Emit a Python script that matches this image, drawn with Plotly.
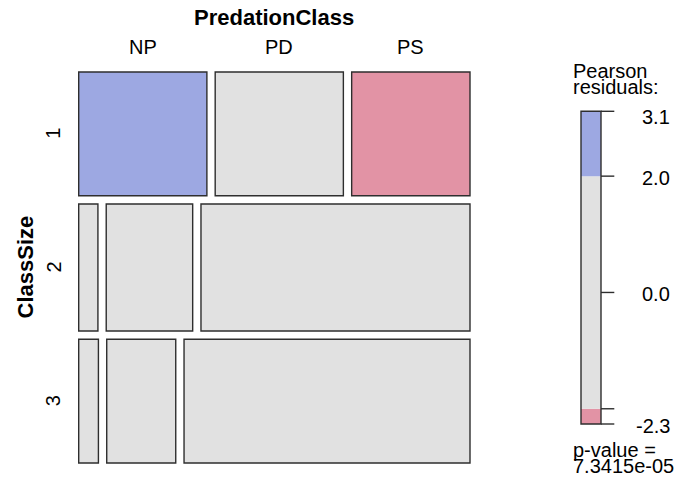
import math
import plotly.graph_objects as go

# Contingency table: ClassSize (rows) x PredationClass (columns)
predation_classes = ["NP", "PD", "PS"]
class_sizes = ["1", "2", "3"]
counts_size1 = [13, 13, 12]
counts_size2 = [2, 9, 28]
counts_size3 = [2, 7, 29]
shade_cutoffs = [-2.0, 0.0, 2.0]

BLUE = "#9DA8E2"
RED = "#E293A5"
GRAY = "#E1E1E1"
EDGE = "#2e2e2e"
FONT = "Liberation Sans, Arial, Helvetica, sans-serif"

W, H = 690, 487

table = [counts_size1, counts_size2, counts_size3]
row_tot = [sum(r) for r in table]
col_tot = [sum(c) for c in zip(*table)]
n_total = sum(row_tot)
nr, nc = len(table), len(table[0])

# Pearson residuals and chi-square p-value
expected = [[row_tot[i] * col_tot[j] / n_total for j in range(nc)] for i in range(nr)]
resid = [[(table[i][j] - expected[i][j]) / math.sqrt(expected[i][j]) for j in range(nc)]
         for i in range(nr)]
chi2 = sum(r * r for row in resid for r in row)
dof = (nr - 1) * (nc - 1)
half = chi2 / 2
p_value = math.exp(-half) * sum(half ** k / math.factorial(k) for k in range(dof // 2))
r_max = max(max(r) for r in resid)
r_min = min(min(r) for r in resid)


def shade(r):
    if r > 2:
        return BLUE
    if r < -2:
        return RED
    return GRAY


# Mosaic panel placement (pixels) and tile spacing
MX0, MX1, MY0, MY1 = 78.7, 470.0, 72.0, 463.0
GAP = 8.3
mw, mh = MX1 - MX0, MY1 - MY0
gx, gy = GAP / mw, GAP / mh

shapes = []
annotations = []

avail_h = 1 - gy * (nr - 1)
avail_w = 1 - gx * (nc - 1)
y = 0.0
row_centers = []
for i in range(nr):
    h = avail_h * row_tot[i] / n_total
    x = 0.0
    for j in range(nc):
        w = avail_w * table[i][j] / row_tot[i]
        shapes.append(dict(type="rect", xref="x", yref="y", x0=x, x1=x + w, y0=y, y1=y + h,
                           fillcolor=shade(resid[i][j]), line=dict(color=EDGE, width=1.4),
                           layer="above"))
        if i == 0:
            annotations.append(dict(text=predation_classes[j], xref="x", yref="paper",
                                    x=x + w / 2, y=1 - 46.5 / H, showarrow=False,
                                    xanchor="center", yanchor="middle",
                                    font=dict(size=20, color="black", family=FONT)))
        x += w + gx
    row_centers.append(y + h / 2)
    y += h + gy

for lab, yc in zip(class_sizes, row_centers):
    annotations.append(dict(text=lab, xref="paper", yref="y", x=53 / W, y=yc,
                            showarrow=False, textangle=-90, xanchor="center", yanchor="middle",
                            font=dict(size=20, color="black", family=FONT)))

annotations.append(dict(text="PredationClass", xref="x", yref="paper", x=0.5, y=1 - 17.5 / H,
                        showarrow=False, xanchor="center", yanchor="middle",
                        font=dict(size=22, color="black", family=FONT, weight="bold")))
annotations.append(dict(text="ClassSize", xref="paper", yref="y", x=25 / W, y=0.5,
                        showarrow=False, textangle=-90, xanchor="center", yanchor="middle",
                        font=dict(size=22, color="black", family=FONT, weight="bold")))

# Residual legend bar
BX0, BX1, BY_TOP, BY_BOT = 581.0, 601.0, 111.3, 424.0
bw = BX1 - BX0
bscale = (BY_BOT - BY_TOP) / (r_max - r_min)
segments = [(r_min, -2.0, RED), (-2.0, 2.0, GRAY), (2.0, r_max, BLUE)]
for lo, hi, col in segments:
    shapes.append(dict(type="rect", xref="x2", yref="y2", x0=0, x1=1, y0=lo, y1=hi,
                       fillcolor=col, line=dict(width=0), layer="above"))
shapes.append(dict(type="rect", xref="x2", yref="y2", x0=0, x1=1, y0=r_min, y1=r_max,
                   fillcolor="rgba(0,0,0,0)", line=dict(color=EDGE, width=1.4), layer="above"))
tick_vals = [r_max] + [c for c in reversed(shade_cutoffs) if r_min < c < r_max] + [r_min]
tick_len = 13.3 / bw
for tv in tick_vals:
    shapes.append(dict(type="line", xref="x2", yref="y2", x0=1, x1=1 + tick_len, y0=tv, y1=tv,
                       line=dict(color=EDGE, width=1.4), layer="above"))

label_vals = [r_max] + [c for c in reversed(shade_cutoffs)
                        if c - r_min > 0.5 and r_max - c > 0.5] + [r_min]
for lv in label_vals:
    annotations.append(dict(text=f"{lv:.1f}", xref="paper", yref="y2", x=672 / W, y=lv,
                            showarrow=False, xanchor="right", yanchor="middle",
                            yshift=-6 if lv == r_max else -1.5,
                            font=dict(size=20, color="black", family=FONT)))

for txt, ypx in [("Pearson", 70.5), ("residuals:", 87.0),
                 ("p-value =", 450.0), (f"{p_value:.4e}", 466.0)]:
    annotations.append(dict(text=txt, xref="paper", yref="paper", x=571 / W, y=1 - ypx / H,
                            showarrow=False, xanchor="left", yanchor="middle",
                            font=dict(size=20, color="black", family=FONT)))

fig = go.Figure()
fig.update_layout(
    width=W, height=H,
    margin=dict(l=0, r=0, t=0, b=0),
    paper_bgcolor="white", plot_bgcolor="rgba(0,0,0,0)",
    showlegend=False,
    xaxis=dict(domain=[0, 1], range=[-MX0 / mw, (W - MX0) / mw], visible=False, fixedrange=True),
    yaxis=dict(domain=[0, 1], range=[(H - MY0) / mh, -MY0 / mh], visible=False, fixedrange=True),
    xaxis2=dict(domain=[0, 1], range=[-BX0 / bw, (W - BX0) / bw], visible=False,
                overlaying="x", anchor="y2", fixedrange=True),
    yaxis2=dict(domain=[0, 1], range=[r_min - (H - BY_BOT) / bscale, r_max + BY_TOP / bscale],
                visible=False, overlaying="y", anchor="x2", fixedrange=True),
    shapes=shapes,
    annotations=annotations,
)
fig.write_html("out.html")
